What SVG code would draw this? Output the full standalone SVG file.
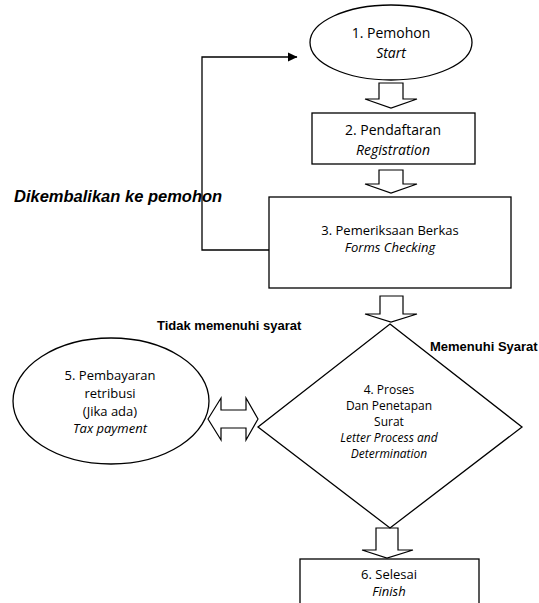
<svg xmlns="http://www.w3.org/2000/svg" width="539" height="603" viewBox="0 0 539 603">
<style>
.shape{fill:#fff;stroke:#000;stroke-width:1.3}
.barrow{fill:#fff;stroke:#000;stroke-width:1.2;stroke-linejoin:miter}
.line{fill:none;stroke:#000;stroke-width:1.3}
.t{font-family:"Open Sans","Noto Sans",sans-serif;fill:#000;text-anchor:middle}
.i{font-style:italic}
.lbl{font-family:"Liberation Sans",Arial,sans-serif;font-weight:bold;fill:#000}
</style>
<defs>
<marker id="ah" markerWidth="10" markerHeight="10" refX="9" refY="5" orient="auto" markerUnits="userSpaceOnUse">
<path d="M0,0.5 L9.5,5 L0,9.5 Z" fill="#000"/>
</marker>
</defs>
<rect width="539" height="603" fill="#fff"/>
<g id="connectors">
<path class="line" d="M269,250 H202 V57 H297" marker-end="url(#ah)"/>
<polygon class="barrow" points="379,83 403,83 403,99 417,99 391,108 365,99 379,99"/>
<polygon class="barrow" points="379,170 403,170 403,184 417,184 391,193 365,184 379,184"/>
<polygon class="barrow" points="380,296 403,296 403,314 417,314 391,322 365,314 380,314"/>
<polygon class="barrow" points="376,528 398,528 398,550 413,550 387,558 362,550 376,550"/>
<polygon class="barrow" points="208,419 221,398 221,410 246,410 246,398 258,419 246,440 246,428 221,428 221,440"/>
</g>
<g id="node1">
<ellipse class="shape" cx="391" cy="42.5" rx="81" ry="37.5"/>
<text class="t" x="391" y="38" font-size="14">1. Pemohon</text>
<text class="t i" x="391" y="58" font-size="14">Start</text>
</g>
<g id="node2">
<rect class="shape" x="312" y="113" width="163" height="51"/>
<text class="t" x="393" y="135" font-size="14">2. Pendaftaran</text>
<text class="t i" x="393" y="155" font-size="14">Registration</text>
</g>
<g id="node3">
<rect class="shape" x="269" y="197" width="242" height="91"/>
<text class="t" x="390" y="235" font-size="13">3. Pemeriksaan Berkas</text>
<text class="t i" x="390" y="252" font-size="13">Forms Checking</text>
</g>
<g id="node4">
<polygon class="shape" points="390,324 522,427 390,528 258,427"/>
<text class="t" x="389" y="394" font-size="12">4. Proses</text>
<text class="t" x="389" y="410" font-size="12">Dan Penetapan</text>
<text class="t" x="389" y="426" font-size="12">Surat</text>
<text class="t i" x="389" y="442" font-size="12">Letter Process and</text>
<text class="t i" x="389" y="458" font-size="12">Determination</text>
</g>
<g id="node5">
<ellipse class="shape" cx="111" cy="401" rx="98" ry="63"/>
<text class="t" x="110" y="380" font-size="13">5. Pembayaran</text>
<text class="t" x="110" y="398" font-size="13">retribusi</text>
<text class="t" x="110" y="416" font-size="13">(Jika ada)</text>
<text class="t i" x="110" y="433" font-size="13">Tax payment</text>
</g>
<g id="node6">
<rect class="shape" x="300" y="559" width="179" height="60"/>
<text class="t" x="389" y="579" font-size="13">6. Selesai</text>
<text class="t i" x="389" y="596" font-size="13">Finish</text>
</g>
<g id="labels">
<text class="lbl" x="14" y="202" font-size="16.5" font-style="italic">Dikembalikan ke pemohon</text>
<text class="lbl" x="157" y="330" font-size="13">Tidak memenuhi syarat</text>
<text class="lbl" x="430" y="351" font-size="13">Memenuhi Syarat</text>
</g>
</svg>
